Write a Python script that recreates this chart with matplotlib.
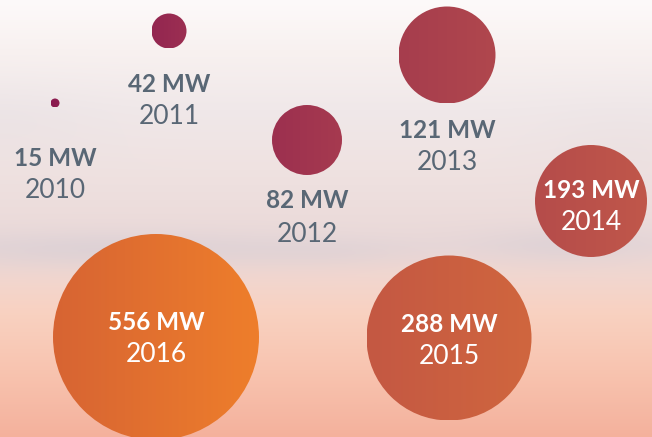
import numpy as np
import matplotlib
matplotlib.use("Agg")
import matplotlib.pyplot as plt
from matplotlib.patches import Circle
from matplotlib.colors import to_rgb

# ---- data ----
years = ["2010", "2011", "2012", "2013", "2014", "2015", "2016"]
capacity_mw = [15, 42, 82, 121, 193, 288, 556]

# ---- layout / style ----
cx = [55, 169, 307, 447, 591, 449, 156]
cy = [103, 31, 140, 55, 201, 338, 337]
radius = [4.5, 17.5, 35, 48.5, 56, 82.5, 103]
col_left = ["#8a1a4f", "#932650", "#9c304f", "#a63d4e", "#b54c4b", "#c45843", "#d76433"]
col_right = ["#8e1f50", "#9c2f52", "#a63a50", "#b0474d", "#c0574a", "#d0663e", "#ee7e2b"]
val_y = [159, 84, 201, 131, 190, 325, 323]
yr_y = [190, 116, 234, 163, 222, 357, 355]
inside = [False, False, False, False, True, True, True]
gray = "#596775"

W, H = 652, 437
fig = plt.figure(figsize=(W / 100, H / 100), dpi=100)
ax = fig.add_axes([0, 0, 1, 1])
ax.set_xlim(0, W)
ax.set_ylim(H, 0)
ax.axis("off")

# ---- sky background ----
stops_y = [0, 50, 110, 170, 215, 245, 280, 315, 370, 437]
stops_c = ["#fdfafa", "#f8f1f0", "#f0e8e9", "#efe2e1", "#ecdcdb", "#e9d8d8",
           "#f2d6ce", "#f9d1c0", "#f8c4b0", "#f4b19c"]
yy = np.arange(H) + 0.5
xx = np.arange(W) + 0.5
bg = np.zeros((H, W, 3))
sc = np.array([to_rgb(c) for c in stops_c])
for k in range(3):
    col = np.interp(yy, stops_y, sc[:, k])
    bg[:, :, k] = col[:, None]
X, Y = np.meshgrid(xx, yy)
lav = np.array(to_rgb("#d5cdd4"))
blobs = [(110, 250, 180, 18, 0.55), (565, 245, 90, 18, 0.45), (330, 252, 90, 14, 0.3),
         (0, 120, 100, 40, 0.12), (620, 150, 80, 50, 0.1)]
for bx, by, sx, sy, a in blobs:
    w = a * np.exp(-((X - bx) / sx) ** 2 - ((Y - by) / sy) ** 2)
    bg = bg * (1 - w[..., None]) + lav * w[..., None]
ax.imshow(bg, extent=[0, W, H, 0], zorder=0, interpolation="bilinear")

# ---- bubbles ----
for i in range(len(years)):
    r = radius[i]
    c1, c2 = np.array(to_rgb(col_left[i])), np.array(to_rgb(col_right[i]))
    t = np.linspace(0, 1, 64)
    grad = c1[None, None, :] * (1 - t)[None, :, None] + c2[None, None, :] * t[None, :, None]
    grad = np.repeat(grad, 2, axis=0)
    im = ax.imshow(grad, extent=[cx[i] - r, cx[i] + r, cy[i] + r, cy[i] - r],
                   zorder=2, interpolation="bilinear")
    circ = Circle((cx[i], cy[i]), r, transform=ax.transData, facecolor="none",
                  edgecolor="none")
    ax.add_patch(circ)
    im.set_clip_path(circ)
    tc = "white" if inside[i] else gray
    ax.text(cx[i], val_y[i], f"{capacity_mw[i]} MW", ha="center", va="center",
            fontsize=17.5, fontweight="bold", color=tc, family=["Lato", "DejaVu Sans"],
            zorder=3)
    ax.text(cx[i], yr_y[i], years[i], ha="center", va="center",
            fontsize=19, fontweight="normal", color=tc, family=["Lato", "DejaVu Sans"],
            zorder=3)

ax.set_xlim(0, W)
ax.set_ylim(H, 0)
fig.savefig("out.png", dpi=100)
